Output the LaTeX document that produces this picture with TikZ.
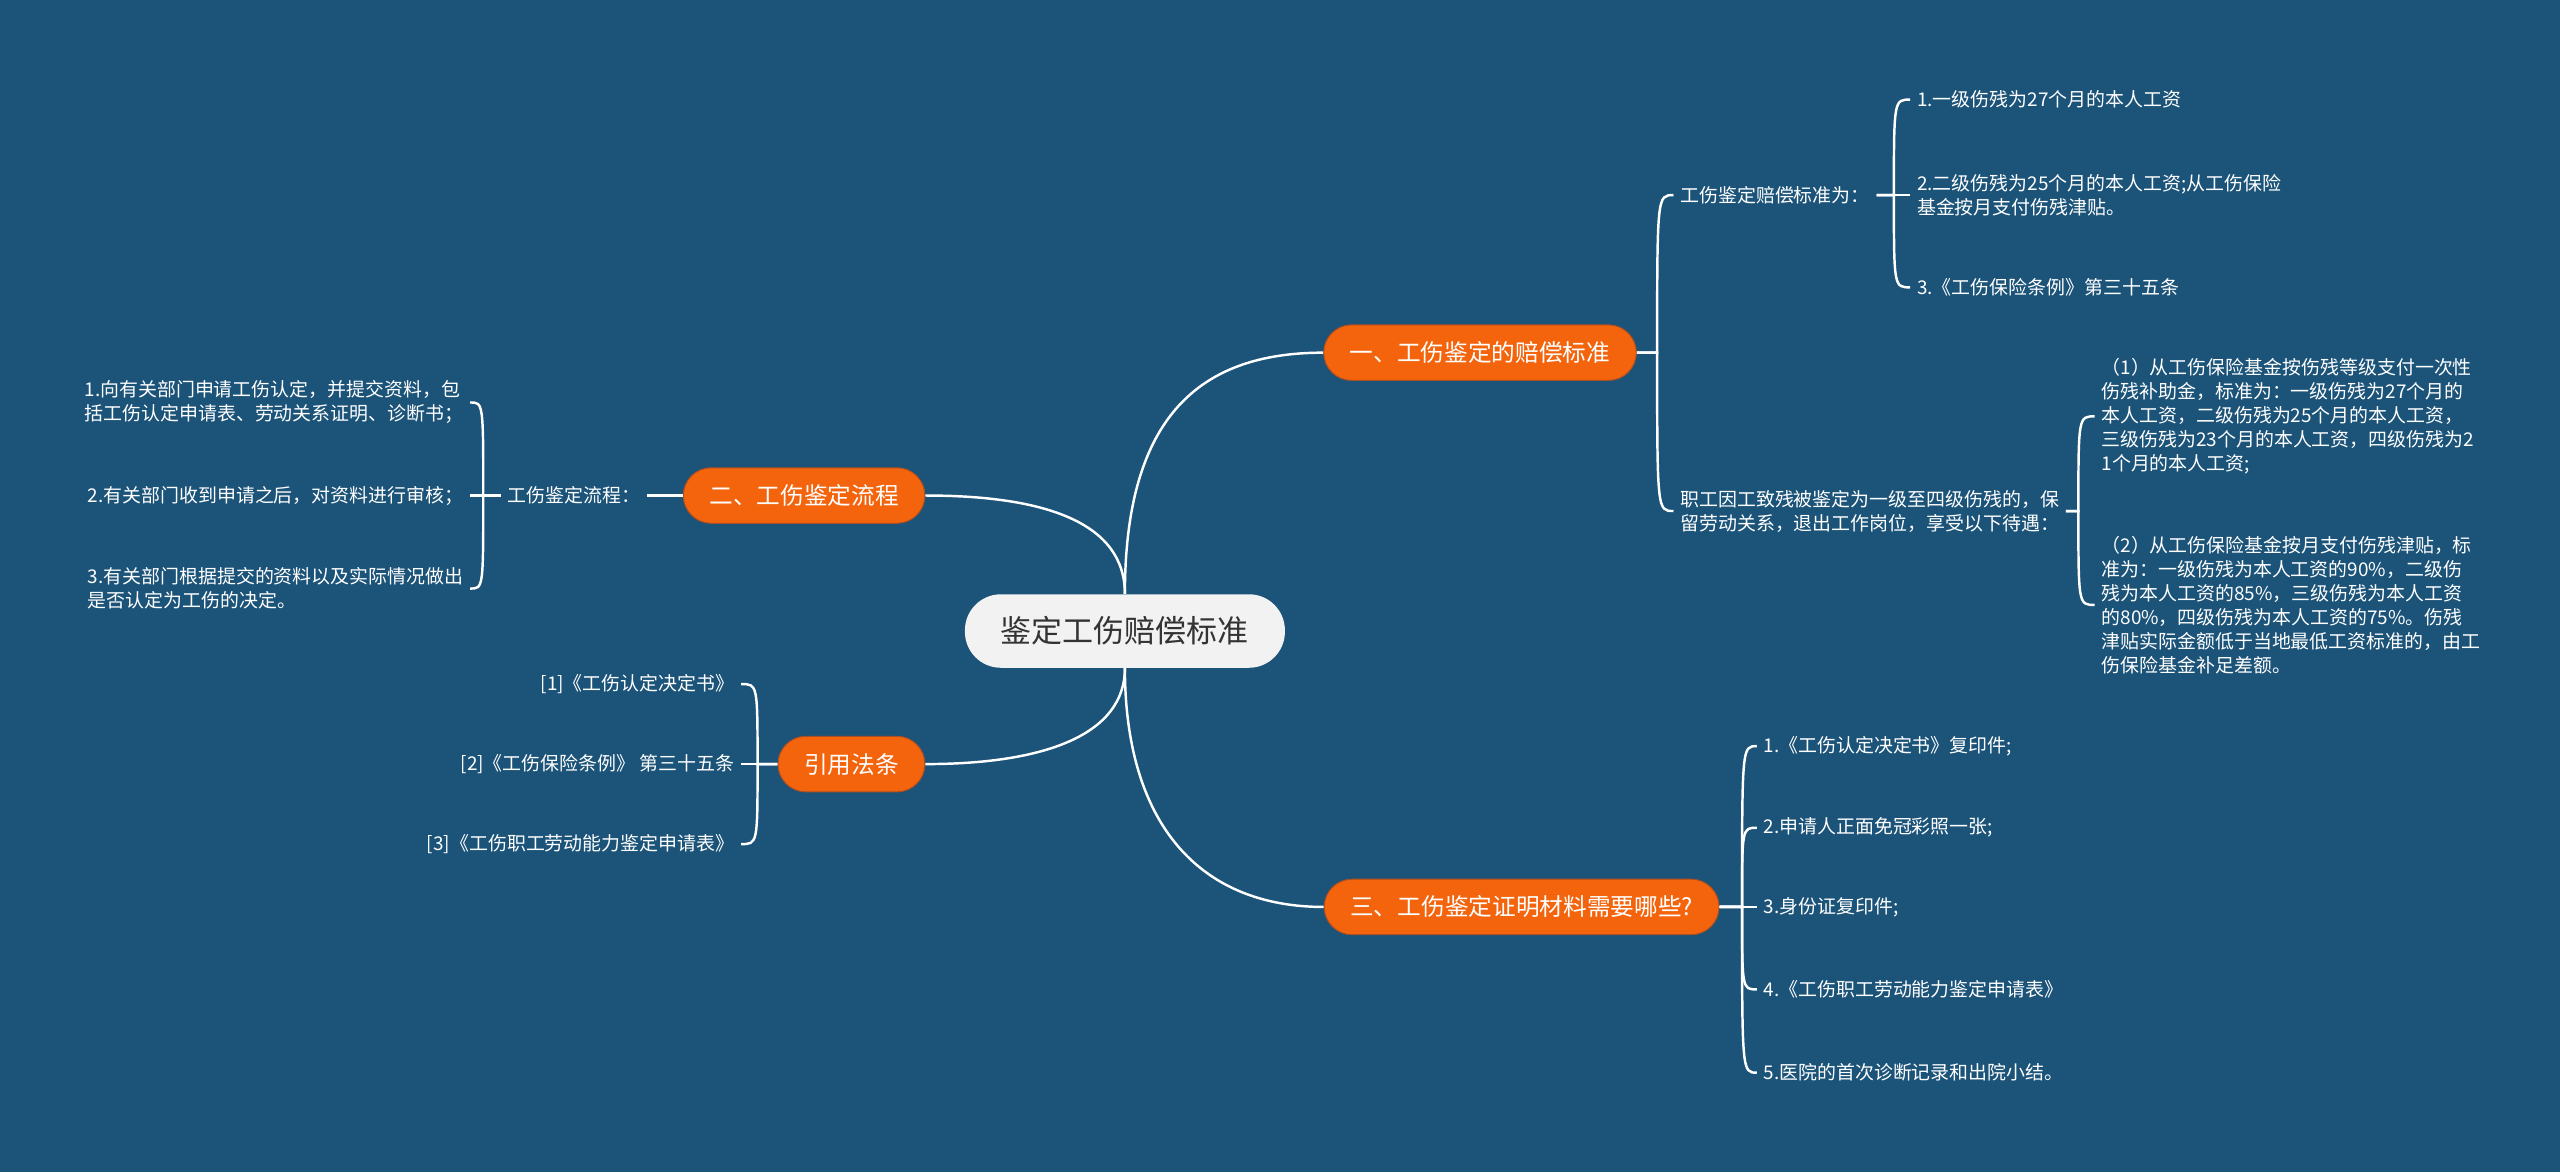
\documentclass[tikz,border=0pt]{standalone}
\usepackage{fontspec}
\setmainfont{Noto Sans CJK SC}
\definecolor{bg}{RGB}{27,83,121}
\definecolor{org}{RGB}{243,100,12}
\definecolor{orgdk}{RGB}{170,78,35}
\definecolor{ctr}{RGB}{242,242,242}
\definecolor{ctrtxt}{RGB}{51,51,51}
\tikzset{
  conn/.style={draw=white, line width=1.5pt},
  centernode/.style={fill=ctr, text=ctrtxt, rounded corners=22pt, minimum height=45pt, inner xsep=22pt, font=\fontsize{19}{22}\selectfont},
  branch/.style={fill=org, draw=orgdk, line width=0.6pt, text=white, rounded corners=17pt, minimum height=34pt, inner xsep=16pt, font=\fontsize{14.5}{17}\selectfont},
  leaf/.style={text=white, inner xsep=4pt, inner ysep=2pt, align=left, font=\fontsize{11.6}{14.7}\selectfont},
}
\begin{document}
\begin{tikzpicture}[x=1pt,y=-1pt]
\fill[bg] (0,0) rectangle (1568,718);
\useasboundingbox (0,0) rectangle (1568,718);

% center and branches
\node[centernode] (c) at (689,386.5) {鉴定工伤赔偿标准};
\node[branch] (b1) at (906.5,216) {一、工伤鉴定的赔偿标准};
\node[branch] (b2) at (492.5,303.5) {二、工伤鉴定流程};
\node[branch] (b3) at (932,555.5) {三、工伤鉴定证明材料需要哪些?};
\node[branch] (b4) at (521.5,468) {引用法条};

\draw[conn] (c.north) .. controls (689,255) and (735,216) .. (b1.west);
\draw[conn] (c.north) .. controls (689,320) and (640,303.5) .. (b2.east);
\draw[conn] (c.south) .. controls (689,450) and (640,468) .. (b4.east);
\draw[conn] (c.south) .. controls (689,505) and (735,555.5) .. (b3.west);

% branch 1
\coordinate (s1) at (1015,216);
\node[leaf, anchor=west] (n1a) at (1025,119.5) {工伤鉴定赔偿标准为：};
\node[leaf, anchor=west] (n1b) at (1025,313) {职工因工致残被鉴定为一级至四级伤残的，保\\留劳动关系，退出工作岗位，享受以下待遇：};
\draw[conn] (b1.east) -- (s1) .. controls (s1 |- n1a.west) .. (n1a.west);
\draw[conn] (b1.east) -- (s1) .. controls (s1 |- n1b.west) .. (n1b.west);

\coordinate (s1a) at (1160,119.5);
\node[leaf, anchor=west] (l11) at (1170,61) {1.一级伤残为27个月的本人工资};
\node[leaf, anchor=west] (l12) at (1170,119.5) {2.二级伤残为25个月的本人工资;从工伤保险\\基金按月支付伤残津贴。};
\node[leaf, anchor=west] (l13) at (1170,176) {3.《工伤保险条例》第三十五条};
\draw[conn] (n1a.east) -- (s1a) .. controls (s1a |- l11.west) .. (l11.west);
\draw[conn] (n1a.east) -- (l12.west);
\draw[conn] (n1a.east) -- (s1a) .. controls (s1a |- l13.west) .. (l13.west);

\coordinate (s1b) at (1273,313);
\node[leaf, anchor=west] (l21) at (1283,255) {（1）从工伤保险基金按伤残等级支付一次性\\伤残补助金，标准为：一级伤残为27个月的\\本人工资，二级伤残为25个月的本人工资，\\三级伤残为23个月的本人工资，四级伤残为2\\1个月的本人工资;};
\node[leaf, anchor=west] (l22) at (1283,370.5) {（2）从工伤保险基金按月支付伤残津贴，标\\准为：一级伤残为本人工资的90\%，二级伤\\残为本人工资的85\%，三级伤残为本人工资\\的80\%，四级伤残为本人工资的75\%。伤残\\津贴实际金额低于当地最低工资标准的，由工\\伤保险基金补足差额。};
\draw[conn] (n1b.east) -- (s1b) .. controls (s1b |- l21.west) .. (l21.west);
\draw[conn] (n1b.east) -- (s1b) .. controls (s1b |- l22.west) .. (l22.west);

% branch 2
\node[leaf] (n2) at (351.5,303.5) {工伤鉴定流程：};
\draw[conn] (b2.west) -- (n2.east);
\coordinate (s2) at (296,303.5);
\node[leaf, anchor=east] (l31) at (288,246.5) {1.向有关部门申请工伤认定，并提交资料，包\\括工伤认定申请表、劳动关系证明、诊断书；};
\node[leaf, anchor=east] (l32) at (288,303.5) {2.有关部门收到申请之后，对资料进行审核；};
\node[leaf, anchor=east] (l33) at (288,360.5) {3.有关部门根据提交的资料以及实际情况做出\\是否认定为工伤的决定。};
\draw[conn] (n2.west) -- (s2) .. controls (s2 |- l31.east) .. (l31.east);
\draw[conn] (n2.west) -- (l32.east);
\draw[conn] (n2.west) -- (s2) .. controls (s2 |- l33.east) .. (l33.east);

% branch 4
\coordinate (s4) at (464,468);
\node[leaf, anchor=east] (l41) at (454,419) {[1]《工伤认定决定书》};
\node[leaf, anchor=east] (l42) at (454,468) {[2]《工伤保险条例》 第三十五条};
\node[leaf, anchor=east] (l43) at (454,517) {[3]《工伤职工劳动能力鉴定申请表》};
\draw[conn] (b4.west) -- (s4) .. controls (s4 |- l41.east) .. (l41.east);
\draw[conn] (b4.west) -- (l42.east);
\draw[conn] (b4.west) -- (s4) .. controls (s4 |- l43.east) .. (l43.east);

% branch 3
\coordinate (s3) at (1067,555.5);
\node[leaf, anchor=west] (l51) at (1076,457) {1.《工伤认定决定书》复印件;};
\node[leaf, anchor=west] (l52) at (1076,507) {2.申请人正面免冠彩照一张;};
\node[leaf, anchor=west] (l53) at (1076,555.5) {3.身份证复印件;};
\node[leaf, anchor=west] (l54) at (1076,606) {4.《工伤职工劳动能力鉴定申请表》};
\node[leaf, anchor=west] (l55) at (1076,657) {5.医院的首次诊断记录和出院小结。};
\draw[conn] (b3.east) -- (s3) .. controls (s3 |- l51.west) .. (l51.west);
\draw[conn] (b3.east) -- (s3) .. controls (s3 |- l52.west) .. (l52.west);
\draw[conn] (b3.east) -- (l53.west);
\draw[conn] (b3.east) -- (s3) .. controls (s3 |- l54.west) .. (l54.west);
\draw[conn] (b3.east) -- (s3) .. controls (s3 |- l55.west) .. (l55.west);
\end{tikzpicture}
\end{document}
